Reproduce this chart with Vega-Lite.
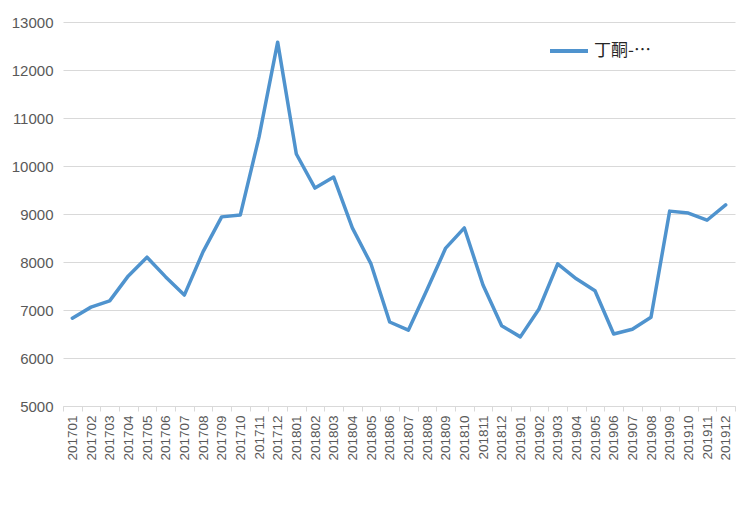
{
  "$schema": "https://vega.github.io/schema/vega-lite/v6.json",
  "width": 672,
  "height": 384,
  "autosize": {"type": "none"},
  "padding": {"left": 63, "top": 22, "right": 20, "bottom": 105},
  "background": "white",
  "config": {
    "view": {"stroke": null},
    "font": "Liberation Sans"
  },
  "data": {
    "values": [
      {"month": "201701", "value": 6830, "series": "丁酮-…"},
      {"month": "201702", "value": 7060, "series": "丁酮-…"},
      {"month": "201703", "value": 7190, "series": "丁酮-…"},
      {"month": "201704", "value": 7710, "series": "丁酮-…"},
      {"month": "201705", "value": 8100, "series": "丁酮-…"},
      {"month": "201706", "value": 7690, "series": "丁酮-…"},
      {"month": "201707", "value": 7310, "series": "丁酮-…"},
      {"month": "201708", "value": 8210, "series": "丁酮-…"},
      {"month": "201709", "value": 8940, "series": "丁酮-…"},
      {"month": "201710", "value": 8980, "series": "丁酮-…"},
      {"month": "201711", "value": 10600, "series": "丁酮-…"},
      {"month": "201712", "value": 12580, "series": "丁酮-…"},
      {"month": "201801", "value": 10250, "series": "丁酮-…"},
      {"month": "201802", "value": 9540, "series": "丁酮-…"},
      {"month": "201803", "value": 9770, "series": "丁酮-…"},
      {"month": "201804", "value": 8710, "series": "丁酮-…"},
      {"month": "201805", "value": 7960, "series": "丁酮-…"},
      {"month": "201806", "value": 6750, "series": "丁酮-…"},
      {"month": "201807", "value": 6580, "series": "丁酮-…"},
      {"month": "201808", "value": 7420, "series": "丁酮-…"},
      {"month": "201809", "value": 8290, "series": "丁酮-…"},
      {"month": "201810", "value": 8710, "series": "丁酮-…"},
      {"month": "201811", "value": 7520, "series": "丁酮-…"},
      {"month": "201812", "value": 6670, "series": "丁酮-…"},
      {"month": "201901", "value": 6440, "series": "丁酮-…"},
      {"month": "201902", "value": 7020, "series": "丁酮-…"},
      {"month": "201903", "value": 7960, "series": "丁酮-…"},
      {"month": "201904", "value": 7650, "series": "丁酮-…"},
      {"month": "201905", "value": 7400, "series": "丁酮-…"},
      {"month": "201906", "value": 6500, "series": "丁酮-…"},
      {"month": "201907", "value": 6600, "series": "丁酮-…"},
      {"month": "201908", "value": 6850, "series": "丁酮-…"},
      {"month": "201909", "value": 9060, "series": "丁酮-…"},
      {"month": "201910", "value": 9020, "series": "丁酮-…"},
      {"month": "201911", "value": 8870, "series": "丁酮-…"},
      {"month": "201912", "value": 9190, "series": "丁酮-…"}
    ]
  },
  "mark": {"type": "line", "strokeWidth": 3.5, "strokeJoin": "round", "strokeCap": "round"},
  "encoding": {
    "x": {
      "field": "month",
      "type": "ordinal",
      "scale": {"type": "band", "paddingInner": 0, "paddingOuter": 0},
      "axis": {
        "title": null,
        "labelAngle": -90,
        "labelAlign": "right",
        "labelBaseline": "middle",
        "labelFontSize": 13.5,
        "labelColor": "#595959",
        "labelPadding": 4,
        "tickBand": "extent",
        "tickSize": 5,
        "tickColor": "#D9D9D9",
        "domainColor": "#D9D9D9",
        "grid": false
      }
    },
    "y": {
      "field": "value",
      "type": "quantitative",
      "scale": {"domain": [5000, 13000], "nice": false, "zero": false},
      "axis": {
        "title": null,
        "format": "d",
        "values": [5000, 6000, 7000, 8000, 9000, 10000, 11000, 12000, 13000],
        "labelFontSize": 15,
        "labelColor": "#595959",
        "labelPadding": 10,
        "ticks": false,
        "domain": false,
        "gridColor": "#D9D9D9",
        "gridWidth": 1
      }
    },
    "color": {
      "field": "series",
      "type": "nominal",
      "scale": {"range": ["#4F93CE"]},
      "legend": {
        "title": null,
        "orient": "none",
        "legendX": 485,
        "legendY": 8,
        "symbolType": "stroke",
        "symbolStrokeWidth": 4,
        "symbolSize": 1444,
        "labelFontSize": 17,
        "labelFont": "Noto Sans CJK SC",
        "labelColor": "#262626",
        "labelLimit": 200
      }
    }
  }
}
